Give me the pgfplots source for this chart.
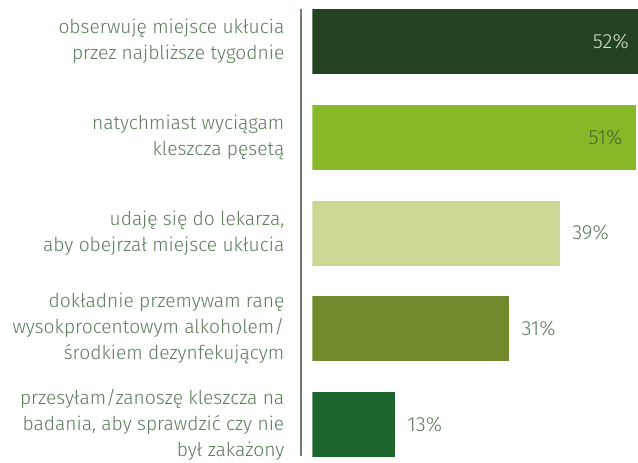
\documentclass[border=0pt]{standalone}
\usepackage{pgfplots}
\pgfplotsset{compat=1.18}
\usepackage{fontspec}
\setmainfont{Fira Sans}[UprightFont={* Light}]
\definecolor{cA}{HTML}{224222}
\definecolor{cB}{HTML}{86B827}
\definecolor{cC}{HTML}{CBD794}
\definecolor{cD}{HTML}{72882D}
\definecolor{cE}{HTML}{1C662E}
\definecolor{txt}{HTML}{5A7A5A}
\definecolor{vline}{HTML}{6A7F68}
\definecolor{pA}{HTML}{D8E0D5}
\definecolor{pB}{HTML}{3E6B2B}
\tikzset{lab/.style={anchor=east, align=right, text=txt, inner sep=0pt,
    font=\fontsize{19.2}{26}\selectfont, xshift=-27.8pt},
  pct/.style={inner sep=0pt, font=\fontsize{20.5}{25}\selectfont}}
\begin{document}
\begin{tikzpicture}[x=1pt,y=1pt]
\path[use as bounding box] (0,0) rectangle (638,463);
\begin{axis}[at={(312.3pt,0pt)}, anchor=south west, scale only axis,
  width=325.7pt, height=463pt,
  xmin=0, xmax=51.37, ymin=-0.4334, ymax=4.402, y dir=reverse,
  hide axis, xbar, bar width=65pt, bar shift=0pt, clip mode=individual]
\addplot[draw=none, fill=cA] coordinates {(52,0)};
\addplot[draw=none, fill=cB] coordinates {(51,1)};
\addplot[draw=none, fill=cC] coordinates {(39,2)};
\addplot[draw=none, fill=cD] coordinates {(31,3)};
\addplot[draw=none, fill=cE] coordinates {(13,4)};
\draw[vline, line width=1.6pt] (axis cs:-1.78,-0.339) -- (axis cs:-1.78,4.329);
\node[lab] at (axis cs:0,0) {obserwuję miejsce ukłucia\\przez najbliższe tygodnie};
\node[lab] at (axis cs:0,1) {natychmiast wyciągam\\kleszcza pęsetą};
\node[lab] at (axis cs:0,2) {udaję się do lekarza,\\aby obejrzał miejsce ukłucia};
\node[lab] at (axis cs:0,3) {dokładnie przemywam ranę\\wysokprocentowym alkoholem/\\środkiem dezynfekującym};
\node[lab] at (axis cs:0,4) {przesyłam/zanoszę kleszcza na\\badania, aby sprawdzić czy nie\\był zakażony};
\node[pct, anchor=east, text=pA, xshift=-13pt] at (axis cs:52,0) {52\%};
\node[pct, anchor=east, text=pB, xshift=-13pt] at (axis cs:51,1) {51\%};
\node[pct, anchor=west, text=txt, xshift=12.5pt] at (axis cs:39,2) {39\%};
\node[pct, anchor=west, text=txt, xshift=12.5pt] at (axis cs:31,3) {31\%};
\node[pct, anchor=west, text=txt, xshift=12.5pt] at (axis cs:13,4) {13\%};
\end{axis}
\end{tikzpicture}
\end{document}
